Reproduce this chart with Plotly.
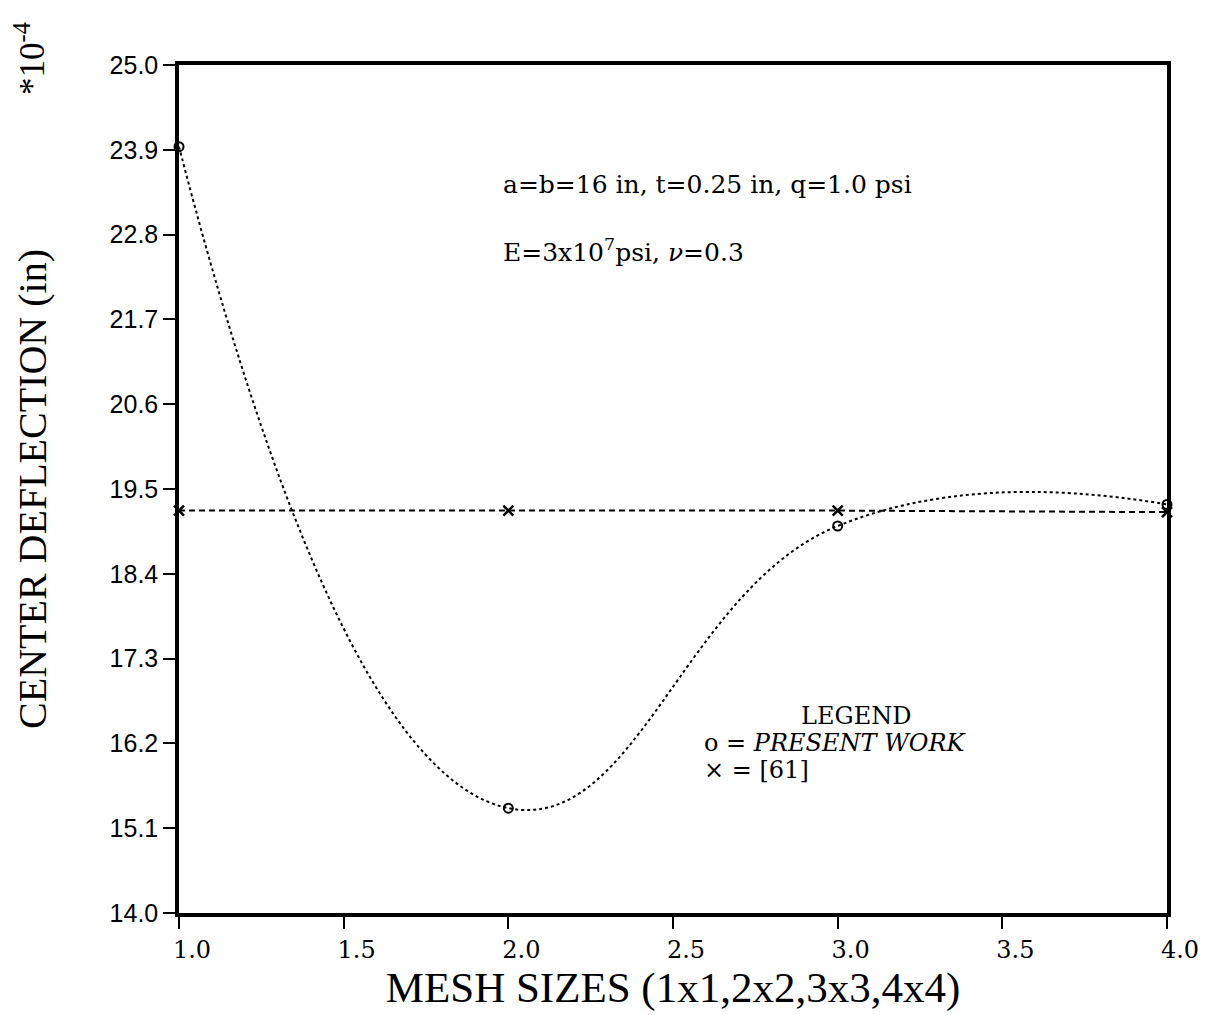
import plotly.graph_objects as go

mesh = [1.0, 2.0, 3.0, 4.0]
present_work = [23.94, 15.36, 19.02, 19.30]
ref61 = [19.22, 19.22, 19.22, 19.20]

y_ticks = [14.0, 15.1, 16.2, 17.3, 18.4, 19.5, 20.6, 21.7, 22.8, 23.9, 25.0]
x_ticks = [1.0, 1.5, 2.0, 2.5, 3.0, 3.5, 4.0]

serif = "DejaVu Serif"
times = "Liberation Serif"

fig = go.Figure()
fig.add_trace(go.Scatter(
    x=mesh, y=present_work, mode="lines+markers",
    line=dict(color="black", width=2, dash="dot", shape="spline", smoothing=1.3),
    marker=dict(symbol="circle-open", size=9, color="black", line=dict(width=2)),
    cliponaxis=False, showlegend=False))
fig.add_trace(go.Scatter(
    x=mesh, y=ref61, mode="lines+markers",
    line=dict(color="black", width=2, dash="6px,4px"),
    marker=dict(symbol="x-thin-open", size=10, color="black", line=dict(width=2.5, color="black")),
    cliponaxis=False, showlegend=False))

fig.update_xaxes(
    range=[1.0, 4.0], tickvals=x_ticks, ticktext=[f"{v:.1f}" for v in x_ticks],
    ticks="outside", ticklen=12, tickwidth=2, tickcolor="black",
    showline=True, linewidth=3.5, linecolor="black", mirror=True,
    showgrid=False, zeroline=False, ticklabelshift=13,
    tickfont=dict(family=serif, size=24, color="black"),
    title=dict(text="MESH SIZES (1x1,2x2,3x3,4x4)", font=dict(family=times, size=43, color="black"), standoff=0))
fig.update_yaxes(
    range=[14.0, 25.0], tickvals=y_ticks, ticktext=[f"{v:.1f}" for v in y_ticks],
    ticks="outside", ticklen=12, tickwidth=2, tickcolor="black",
    showline=True, linewidth=3.5, linecolor="black", mirror=True,
    showgrid=False, zeroline=False,
    tickfont=dict(family="Liberation Sans", size=25, color="black"),
    title=dict(text="CENTER DEFLECTION (in)", font=dict(family=times, size=40, color="black"), standoff=52))

ann = [
    dict(x=0.326, y=23.45, text="a=b=16 in, t=0.25 in, q=1.0 psi", size=25),
    dict(x=0.326, y=22.6, text="E=3x10<sup>7</sup>psi, <i>ν</i>=0.3", size=25),
]
for a in ann:
    fig.add_annotation(x=a["x"], y=a["y"], xref="paper", yref="y", text=a["text"],
                       xanchor="left", yanchor="middle", showarrow=False,
                       font=dict(family=serif, size=a["size"], color="black"))

fig.add_annotation(x=0.685, y=16.55, xref="paper", yref="y", text="LEGEND", showarrow=False,
                   xanchor="center", yanchor="middle", font=dict(family=serif, size=24, color="black"))
fig.add_annotation(x=0.529, y=16.2, xref="paper", yref="y", text="o = <i>PRESENT WORK</i>", showarrow=False,
                   xanchor="left", yanchor="middle", font=dict(family=serif, size=24, color="black"))
fig.add_annotation(x=0.529, y=15.86, xref="paper", yref="y", text="× = [61]", showarrow=False,
                   xanchor="left", yanchor="middle", font=dict(family=serif, size=24, color="black"))

fig.add_annotation(x=-0.151, y=1.008, xref="paper", yref="paper", text="*10<sup>-4</sup>", showarrow=False,
                   xanchor="center", yanchor="middle",
                   textangle=-90, font=dict(family=times, size=35, color="black"))

fig.update_layout(
    width=1207, height=1015,
    margin=dict(l=171, r=48, t=57, b=110),
    paper_bgcolor="white", plot_bgcolor="white",
)

fig.write_html("out.html")
